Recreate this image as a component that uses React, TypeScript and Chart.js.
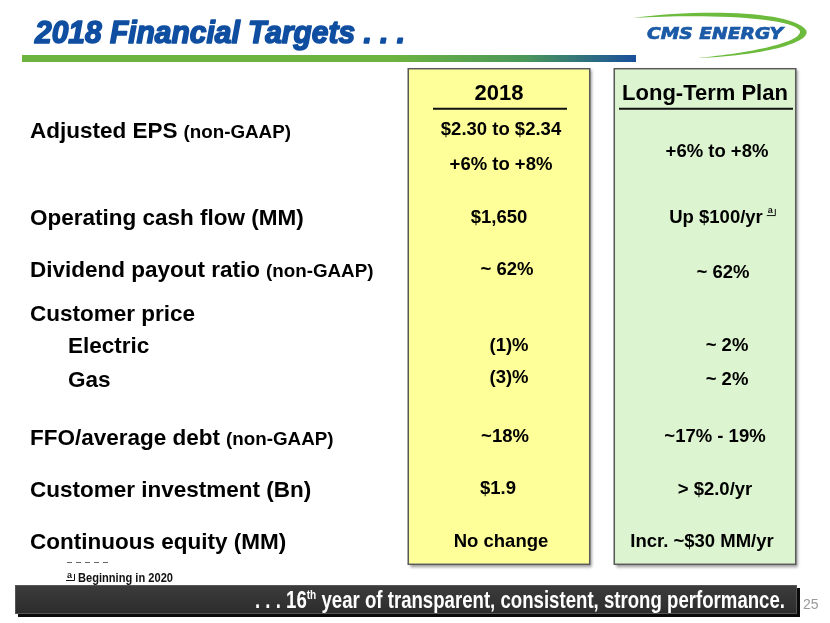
import React, { useEffect, useRef } from "react";
import { Chart, registerables } from "chart.js";

Chart.register(...registerables);

// ---------- content ----------
const TITLE = "2018 Financial Targets . . .";
const LOGO_TEXT = "CMS ENERGY";
const COLUMNS = ["2018", "Long-Term Plan"];
// each column box spans the whole table (y-scale units)
const COLUMN_SPAN: [number, number][] = [
  [0, 100],
  [0, 100],
];
const ROW_LABELS = [
  "Adjusted EPS",
  "Operating cash flow (MM)",
  "Dividend payout ratio",
  "Customer price",
  "Electric",
  "Gas",
  "FFO/average debt",
  "Customer investment (Bn)",
  "Continuous equity (MM)",
];
const ROW_NOTES = ["(non-GAAP)", "", "(non-GAAP)", "", "", "", "(non-GAAP)", "", ""];
const ROW_INDENT = [false, false, false, false, true, true, false, false, false];
const TARGETS_2018: string[][] = [
  ["$2.30 to $2.34", "+6% to +8%"],
  ["$1,650"],
  ["~ 62%"],
  [],
  ["(1)%"],
  ["(3)%"],
  ["~18%"],
  ["$1.9"],
  ["No change"],
];
const TARGETS_LONG_TERM: string[][] = [
  ["+6% to +8%"],
  ["Up $100/yr"],
  ["~ 62%"],
  [],
  ["~ 2%"],
  ["~ 2%"],
  ["~17% - 19%"],
  ["> $2.0/yr"],
  ["Incr. ~$30 MM/yr"],
];
const FOOTNOTE_ROW = 1; // row of the long-term column that carries footnote "a"
const FOOTNOTE_MARK = "a";
const FOOTNOTE_TEXT = "Beginning in 2020";
const TAGLINE_PRE = ". . . 16";
const TAGLINE_SUP = "th";
const TAGLINE_POST = " year of transparent, consistent, strong performance.";
const PAGE_NUMBER = "25";

// ---------- layout (y-scale units, 0 = top of boxes, 100 = bottom) ----------
const HEADER_POS = 6.4;
const UNDERLINE_POS = 8.2;
const UNDERLINE_HALF = [67, 87];
const LABEL_POS = [14.1, 31.6, 42.0, 50.9, 57.3, 64.2, 75.9, 86.3, 96.8];
const POS_2018: number[][] = [[13.5, 20.5], [31.2], [41.7], [], [56.9], [63.4], [75.3], [85.7], [96.4]];
const POS_LONG_TERM: number[][] = [[17.9], [31.2], [42.3], [], [56.9], [63.8], [75.3], [85.9], [96.4]];
const DX_2018 = [2, 0, 8, 0, 10, 10, 6, -1, 2];
const DX_LONG_TERM = [12, 11, 18, 0, 22, 22, 10, 10, -3];

const YELLOW = "#ffff99";
const GREEN = "#dcf5d0";
const BLUE = "#0f4ea0";
const SANS = '"Liberation Sans", Arial, sans-serif';
const NARROW = '"Liberation Sans Narrow", "Liberation Sans", Arial, sans-serif';

function drawText(
  ctx: CanvasRenderingContext2D,
  text: string,
  x: number,
  y: number,
  font: string,
  color: string,
  align: "left" | "center" | "right" = "left",
  fitWidth?: number
) {
  ctx.save();
  ctx.font = font;
  ctx.fillStyle = color;
  ctx.textBaseline = "alphabetic";
  ctx.textAlign = "left";
  const w = ctx.measureText(text).width;
  const sx = fitWidth ? fitWidth / w : 1;
  const dw = w * sx;
  const left = align === "center" ? x - dw / 2 : align === "right" ? x - dw : x;
  ctx.translate(left, y);
  ctx.scale(sx, 1);
  ctx.fillText(text, 0, 0);
  ctx.restore();
  return { left, width: dw };
}

function drawMark(ctx: CanvasRenderingContext2D, x: number, y: number, size: number) {
  // small underlined "a" footnote marker
  ctx.save();
  ctx.font = `bold ${size}px ${SANS}`;
  ctx.fillStyle = "#111";
  ctx.textBaseline = "alphabetic";
  ctx.fillText(FOOTNOTE_MARK, x, y);
  const w = ctx.measureText(FOOTNOTE_MARK).width;
  ctx.strokeStyle = "#111";
  ctx.lineWidth = 1;
  ctx.beginPath();
  ctx.moveTo(x - 1, y + 2.5);
  ctx.lineTo(x + w + 2.5, y + 2.5);
  ctx.lineTo(x + w + 2.5, y - size * 0.45);
  ctx.stroke();
  ctx.restore();
}

const slidePlugin = {
  id: "slide",
  beforeDatasetsDraw(chart: any) {
    const ctx: CanvasRenderingContext2D = chart.ctx;
    const meta = chart.getDatasetMeta(0);
    meta.data.forEach((bar: any) => {
      const { x, y, base, width } = bar.getProps(["x", "y", "base", "width"], true);
      const top = Math.min(y, base);
      const h = Math.abs(base - y);
      ctx.save();
      ctx.shadowColor = "rgba(0,0,0,0.45)";
      ctx.shadowBlur = 3;
      ctx.shadowOffsetX = 2;
      ctx.shadowOffsetY = 2;
      ctx.fillStyle = "#777";
      ctx.fillRect(x - width / 2, top, width, h);
      ctx.restore();
    });
  },
  afterDraw(chart: any) {
    const ctx: CanvasRenderingContext2D = chart.ctx;
    const yScale = chart.scales.y;
    const meta = chart.getDatasetMeta(0);
    const cx = meta.data.map((b: any) => b.x);
    const py = (v: number) => yScale.getPixelForValue(v);

    // ---- title ----
    ctx.save();
    ctx.strokeStyle = BLUE;
    ctx.lineWidth = 1.6;
    ctx.lineJoin = "round";
    ctx.font = `italic bold 31px ${NARROW}`;
    const tw = ctx.measureText(TITLE).width;
    const tsx = 370 / tw;
    ctx.translate(35, 43);
    ctx.scale(tsx, 1);
    ctx.fillStyle = BLUE;
    ctx.fillText(TITLE, 0, 0);
    ctx.strokeText(TITLE, 0, 0);
    ctx.restore();

    // title bar
    const g = ctx.createLinearGradient(22, 0, 636, 0);
    g.addColorStop(0, "#6db33f");
    g.addColorStop(0.6, "#6db33f");
    g.addColorStop(0.82, "#4b975a");
    g.addColorStop(1, "#1a4f9c");
    ctx.fillStyle = g;
    ctx.fillRect(22, 55, 614, 7);

    // ---- logo ----
    ctx.save();
    ctx.fillStyle = "#6cbb3c";
    ctx.beginPath();
    ctx.moveTo(633, 18);
    ctx.bezierCurveTo(700, 9, 792, 11, 806, 30);
    ctx.bezierCurveTo(813, 43, 760, 56, 697, 58);
    ctx.bezierCurveTo(752, 53, 802, 42, 800, 31);
    ctx.bezierCurveTo(792, 17, 705, 14, 633, 18);
    ctx.closePath();
    ctx.fill();
    ctx.restore();
    ctx.save();
    ctx.strokeStyle = "#1b5aa7";
    ctx.lineWidth = 0.7;
    ctx.font = `italic bold 15.5px "DejaVu Sans", ${SANS}`;
    const lw = ctx.measureText(LOGO_TEXT).width;
    ctx.translate(647, 38.5);
    ctx.scale(136 / lw, 1);
    ctx.fillStyle = "#1b5aa7";
    ctx.fillText(LOGO_TEXT, 0, 0);
    ctx.strokeText(LOGO_TEXT, 0, 0);
    ctx.restore();

    // ---- column headers ----
    COLUMNS.forEach((c, i) => {
      drawText(ctx, c, cx[i], py(HEADER_POS), `bold 22px ${SANS}`, "#000", "center");
      ctx.fillStyle = "#111";
      ctx.fillRect(cx[i] + 1 - UNDERLINE_HALF[i], py(UNDERLINE_POS) - 1, UNDERLINE_HALF[i] * 2, 2);
    });

    // ---- row labels ----
    ROW_LABELS.forEach((label, i) => {
      const x = ROW_INDENT[i] ? 68 : 30;
      const y = py(LABEL_POS[i]);
      const r = drawText(ctx, label, x, y, `bold 22.5px ${SANS}`, "#000");
      if (ROW_NOTES[i]) {
        drawText(ctx, ROW_NOTES[i], r.left + r.width + 6, y, `bold 18.8px ${SANS}`, "#000");
      }
    });

    // ---- values ----
    TARGETS_2018.forEach((lines, i) => {
      lines.forEach((t, j) => {
        drawText(ctx, t, cx[0] + DX_2018[i], py(POS_2018[i][j]), `bold 18.5px ${SANS}`, "#000", "center");
      });
    });
    TARGETS_LONG_TERM.forEach((lines, i) => {
      lines.forEach((t, j) => {
        const r = drawText(ctx, t, cx[1] + DX_LONG_TERM[i], py(POS_LONG_TERM[i][j]), `bold 18.5px ${SANS}`, "#000", "center");
        if (i === FOOTNOTE_ROW) drawMark(ctx, r.left + r.width + 5, py(POS_LONG_TERM[i][j]) - 10, 9);
      });
    });

    // ---- footnote ----
    ctx.save();
    ctx.strokeStyle = "#666";
    ctx.lineWidth = 1;
    ctx.setLineDash([5, 4]);
    ctx.beginPath();
    ctx.moveTo(67, 562.5);
    ctx.lineTo(112, 562.5);
    ctx.stroke();
    ctx.restore();
    drawMark(ctx, 67, 578, 9);
    drawText(ctx, FOOTNOTE_TEXT, 78, 582, `bold 12.5px ${NARROW}`, "#111", "left", 95);

    // ---- tagline bar ----
    ctx.save();
    ctx.fillStyle = "#0a0a0a";
    ctx.fillRect(18, 588, 782, 29);
    const bg = ctx.createLinearGradient(0, 585, 0, 614);
    bg.addColorStop(0, "#3c3c3c");
    bg.addColorStop(1, "#2c2c2c");
    ctx.fillStyle = bg;
    ctx.fillRect(15, 585, 782, 29);
    ctx.strokeStyle = "#555";
    ctx.lineWidth = 1;
    ctx.strokeRect(15.5, 585.5, 781, 28);
    ctx.restore();

    ctx.save();
    const big = `bold 24px ${NARROW}`;
    const small = `bold 13px ${NARROW}`;
    ctx.font = big;
    const w1 = ctx.measureText(TAGLINE_PRE).width;
    const w3 = ctx.measureText(TAGLINE_POST).width;
    ctx.font = small;
    const w2 = ctx.measureText(TAGLINE_SUP).width;
    const total = w1 + w2 + w3;
    const sx = 530 / total;
    ctx.translate(255, 607.5);
    ctx.scale(sx, 1);
    ctx.fillStyle = "#fff";
    ctx.font = big;
    ctx.fillText(TAGLINE_PRE, 0, 0);
    ctx.font = small;
    ctx.fillText(TAGLINE_SUP, w1, -9);
    ctx.font = big;
    ctx.fillText(TAGLINE_POST, w1 + w2, 0);
    ctx.restore();

    drawText(ctx, PAGE_NUMBER, 803, 609, `14px ${NARROW}`, "#9a9a9a");
  },
};

export default function App() {
  const ref = useRef<HTMLCanvasElement | null>(null);
  useEffect(() => {
    if (!ref.current) return;
    const chart = new Chart(ref.current, {
      type: "bar",
      data: {
        labels: COLUMNS,
        datasets: [
          {
            data: COLUMN_SPAN as any,
            backgroundColor: [YELLOW, GREEN],
            borderColor: "#5a5a5a",
            borderWidth: 1.5,
            borderSkipped: false,
            barPercentage: 0.888,
            categoryPercentage: 1,
          },
        ],
      },
      options: {
        responsive: false,
        animation: false,
        layout: { padding: { left: 396, right: 22, top: 68, bottom: 58 } },
        scales: {
          x: { display: false },
          y: { display: false, min: 0, max: 100, reverse: true },
        },
        plugins: { legend: { display: false }, tooltip: { enabled: false } },
      },
      plugins: [slidePlugin],
    });
    return () => chart.destroy();
  }, []);
  return (
    <div style={{ position: "absolute", left: 0, top: 0, width: 830, height: 623, background: "#fff" }}>
      <canvas ref={ref} width={830} height={623} style={{ display: "block" }} />
    </div>
  );
}
